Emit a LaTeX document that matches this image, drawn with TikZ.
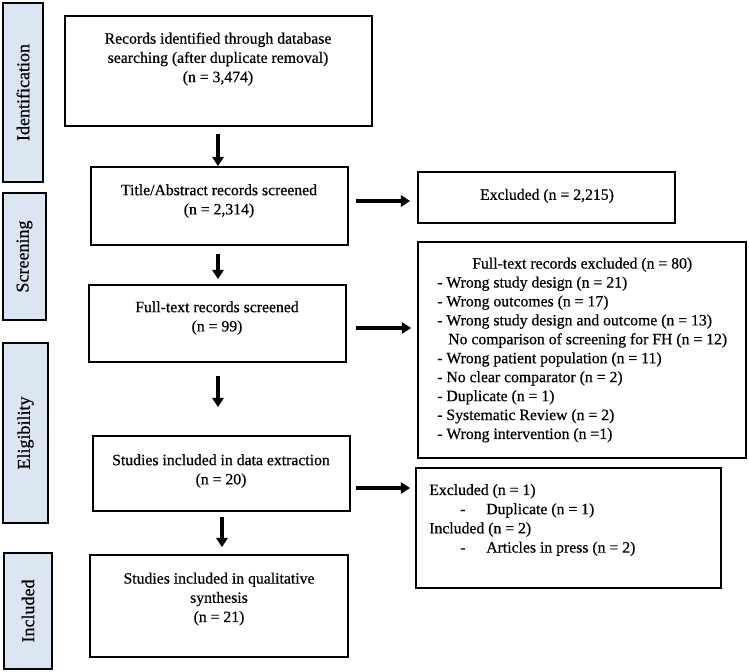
\documentclass[tikz,border=0pt]{standalone}
\usepackage{fontspec}
\setmainfont{Liberation Serif}[FakeBold=0.6]
\usetikzlibrary{arrows.meta,fit}
\definecolor{stagefill}{RGB}{220,230,242}
\begin{document}
\begin{tikzpicture}[x=0.75pt,y=-0.75pt,
  box/.style={draw=black, line width=1.3pt, inner sep=0pt},
  stagebox/.style={draw=black, line width=1.3pt, inner sep=0pt, fill=stagefill},
  txt/.style={font=\fontsize{11.8}{14.4}\selectfont, align=center, inner sep=0pt},
  ltxt/.style={font=\fontsize{11.8}{14.4}\selectfont, align=left, inner sep=0pt, anchor=west},
  stagetxt/.style={font=\fontsize{13.5}{16}\selectfont, inner sep=0pt, rotate=90},
  arr/.style={line width=2.4pt, -{Triangle[length=7pt,width=8.5pt]}}]
\useasboundingbox (0,0) rectangle (749,671);

% stage labels
\node[stagebox, fit={(3,3) (43,182)}] (s1) {};
\node[stagebox, fit={(3,193) (46,320)}] (s2) {};
\node[stagebox, fit={(3,343) (48,523)}] (s3) {};
\node[stagebox, fit={(4,553) (52,669)}] (s4) {};
\node[stagetxt] (s1t) at (s1.center) {Identification};
\node[stagetxt] (s2t) at (s2.center) {Screening};
\node[stagetxt] (s3t) at (s3.center) {Eligibility};
\node[stagetxt] (s4t) at (s4.center) {Included};

% main boxes
\node[box, fit={(65,16) (372,126)}] (b1) {};
\node[box, fit={(91,167) (348,245)}] (b2) {};
\node[box, fit={(89,285) (346,362)}] (b3) {};
\node[box, fit={(93,436) (350,511)}] (b4) {};
\node[box, fit={(90,555) (348,657)}] (b5) {};

\node[txt] (b1t) at (218,59) {Records identified through database\\searching (after duplicate removal)\\(n = 3,474)};
\node[txt] (b2t) at (219,201) {Title/Abstract records screened\\(n = 2,314)};
\node[txt] (b3t) at (217,318) {Full-text records screened\\(n = 99)};
\node[txt] (b4t) at (221,471) {Studies included in data extraction\\(n = 20)};
\node[txt] (b5t) at (219,599) {Studies included in qualitative\\synthesis\\(n = 21)};

% side boxes
\node[box, fit={(418,172) (675,223)}] (e1) {};
\node[box, fit={(418,242) (746,458)}] (e2) {};
\node[box, fit={(416,468) (721,588)}] (e3) {};

\node[txt] (e1t) at (547,196) {Excluded (n = 2,215)};
\node[ltxt, font=\fontsize{11.8}{14.2}\selectfont] (e2t) at (437,350) {\hspace*{26.25pt}Full-text records excluded (n = 80)\\
- Wrong study design (n = 21)\\
- Wrong outcomes (n = 17)\\
- Wrong study design and outcome (n = 13)\\
\hspace*{8.25pt}No comparison of screening for FH (n = 12)\\
- Wrong patient population (n = 11)\\
- No clear comparator (n = 2)\\
- Duplicate (n = 1)\\
- Systematic Review (n = 2)\\
- Wrong intervention (n =1)};
\node[ltxt] (e3t) at (429,520) {Excluded (n = 1)\\
\hspace*{23.25pt}\makebox[19.5pt][l]{-}Duplicate (n = 1)\\
Included (n = 2)\\
\hspace*{23.25pt}\makebox[19.5pt][l]{-}Articles in press (n = 2)};

% row levels for horizontal arrows
\coordinate (r2) at (0,201);
\coordinate (r3) at (0,328);
\coordinate (r4) at (0,488);

% vertical arrows
\draw[arr, shorten <=5.25pt] (b1.south -| 218,0) -- (b2.north -| 218,0);
\draw[arr, shorten <=6pt, shorten >=3.75pt] (b2.south -| 218,0) -- (b3.north -| 218,0);
\draw[arr, shorten <=9.75pt, shorten >=21pt] (b3.south -| 218,0) -- (b4.north -| 218,0);
\draw[arr, shorten <=3.75pt, shorten >=5.25pt] (b4.south -| 222,0) -- (b5.north -| 222,0);

% horizontal arrows
\draw[arr, shorten <=5.25pt, shorten >=5.25pt] (b2.east |- r2) -- (e1.west |- r2);
\draw[arr, shorten <=6.75pt, shorten >=4.5pt] (b3.east |- r3) -- (e2.west |- r3);
\draw[arr, shorten <=3.75pt, shorten >=3.75pt] (b4.east |- r4) -- (e3.west |- r4);
\end{tikzpicture}
\end{document}
